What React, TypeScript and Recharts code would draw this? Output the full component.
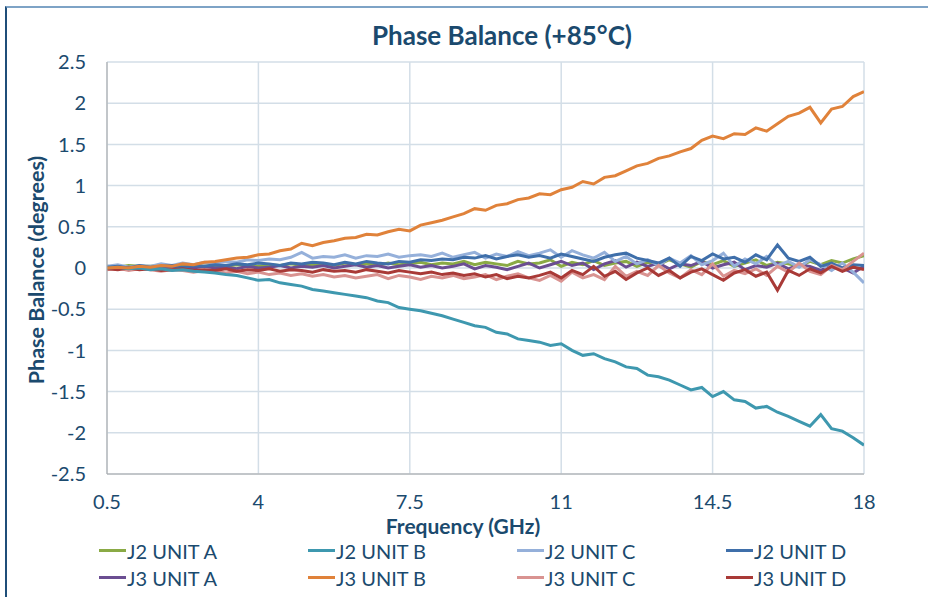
import React from "react";
import { LineChart, Line, XAxis, YAxis, CartesianGrid } from "recharts";

// Frequency points (GHz)
const freqs = [
  0.5, 0.75, 1, 1.25, 1.5, 1.75, 2, 2.25, 2.5, 2.75,
  3, 3.25, 3.5, 3.75, 4, 4.25, 4.5, 4.75, 5, 5.25,
  5.5, 5.75, 6, 6.25, 6.5, 6.75, 7, 7.25, 7.5, 7.75,
  8, 8.25, 8.5, 8.75, 9, 9.25, 9.5, 9.75, 10, 10.25,
  10.5, 10.75, 11, 11.25, 11.5, 11.75, 12, 12.25, 12.5, 12.75,
  13, 13.25, 13.5, 13.75, 14, 14.25, 14.5, 14.75, 15, 15.25,
  15.5, 15.75, 16, 16.25, 16.5, 16.75, 17, 17.25, 17.5, 17.75,
  18,
];

const j2UnitA = [
  0.02, 0.01, 0.03, 0.02, 0.02, 0.03, 0.01, 0.02, 0.03, 0.02,
  0.03, 0.02, 0.04, 0.03, 0.02, 0.04, 0.03, 0.05, 0.03, 0.04,
  0.05, 0.03, 0.06, 0.04, 0.05, 0.03, 0.06, 0.04, 0.05, 0.07,
  0.04, 0.06, 0.05, 0.08, 0.04, 0.07, 0.05, 0.03, 0.08, 0.05,
  0.06, 0.1, 0.02, 0.07, 0.04, 0.09, 0.03, 0.06, 0.08, 0.02,
  0.07, 0.04, 0.1, 0.05, 0.01, 0.08, 0.04, 0.09, 0.02, 0.06,
  0.1, 0.03, 0.07, 0.05, 0.02, 0.08, 0.04, 0.09, 0.06, 0.11,
  0.15,
];

const j2UnitB = [
  0.0, 0.01, -0.01, 0.0, -0.02, -0.01, -0.03, -0.02, -0.04, -0.05,
  -0.06, -0.08, -0.09, -0.12, -0.15, -0.14, -0.18, -0.2, -0.22, -0.26,
  -0.28, -0.3, -0.32, -0.34, -0.36, -0.4, -0.42, -0.48, -0.5, -0.52,
  -0.55, -0.58, -0.62, -0.66, -0.7, -0.72, -0.78, -0.8, -0.86, -0.88,
  -0.9, -0.94, -0.92, -1.0, -1.06, -1.04, -1.1, -1.14, -1.2, -1.22,
  -1.3, -1.32, -1.36, -1.42, -1.48, -1.45, -1.56, -1.5, -1.6, -1.62,
  -1.7, -1.68, -1.75, -1.8, -1.86, -1.92, -1.78, -1.95, -1.98, -2.06,
  -2.15,
];

const j2UnitC = [
  0.02, 0.04, 0.01, 0.03, 0.02, 0.05, 0.03, 0.06, 0.04, 0.07,
  0.06, 0.08, 0.07, 0.1, 0.09, 0.11, 0.1, 0.13, 0.19, 0.12,
  0.14, 0.13, 0.16, 0.12, 0.15, 0.14, 0.17, 0.13, 0.15, 0.16,
  0.14, 0.18, 0.13, 0.16, 0.19, 0.12, 0.17, 0.14, 0.2, 0.15,
  0.18, 0.22, 0.13, 0.21, 0.16, 0.12, 0.19, 0.08, 0.14, 0.05,
  0.1, 0.03, 0.12, 0.06, 0.15, 0.04, 0.09, 0.18, 0.02, 0.11,
  0.05, 0.14, 0.03, 0.08, 0.01, 0.1, 0.04, -0.03, 0.06, -0.05,
  -0.18,
];

const j2UnitD = [
  0.01, 0.02, 0.0, 0.03, 0.01, 0.02, 0.03, 0.01, 0.03, 0.02,
  0.04, 0.03, 0.05, 0.04, 0.06, 0.05, 0.03, 0.06, 0.05, 0.07,
  0.06, 0.04, 0.07, 0.05, 0.08, 0.06, 0.05, 0.08, 0.07, 0.1,
  0.09, 0.11, 0.1, 0.13, 0.12, 0.15, 0.11, 0.14, 0.16, 0.13,
  0.15, 0.12, 0.17, 0.14, 0.11, 0.08, 0.13, 0.16, 0.18, 0.12,
  0.09, 0.06, 0.12, 0.02, 0.14, 0.09, 0.17, 0.11, 0.13, 0.07,
  0.16, 0.1, 0.28, 0.12, 0.08, 0.13, 0.02, 0.06, 0.0, 0.04,
  0.03,
];

const j3UnitA = [
  0.0, -0.01, 0.01, 0.0, -0.01, 0.0, 0.01, -0.01, 0.0, 0.02,
  0.0, 0.01, -0.01, 0.02, 0.0, 0.01, 0.03, 0.0, 0.02, 0.01,
  0.03, 0.0, 0.02, 0.04, 0.01, 0.03, 0.0, 0.02, 0.04, 0.01,
  0.03, 0.0, 0.02, 0.05, -0.01, 0.03, 0.01, -0.02, 0.02, 0.06,
  0.0, 0.04, 0.08, 0.03, 0.06, -0.02, 0.05, 0.09, 0.01, 0.07,
  0.02, 0.06, -0.01, 0.05, 0.03, 0.08, 0.0, 0.04, 0.07, -0.02,
  0.03, 0.01, 0.06, -0.01, 0.04, 0.02, -0.03, 0.03, 0.0, -0.06,
  0.02,
];

const j3UnitB = [
  0.0, 0.01, 0.0, 0.02, 0.01, 0.03, 0.02, 0.05, 0.04, 0.07,
  0.08, 0.1, 0.12, 0.13, 0.16, 0.17, 0.21, 0.23, 0.3, 0.27,
  0.31, 0.33, 0.36, 0.37, 0.41, 0.4, 0.44, 0.47, 0.45, 0.52,
  0.55, 0.58, 0.62, 0.66, 0.72, 0.7, 0.76, 0.78, 0.83, 0.85,
  0.9, 0.89, 0.95, 0.98, 1.05, 1.02, 1.1, 1.12, 1.18, 1.24,
  1.27, 1.33, 1.36, 1.41, 1.45, 1.55, 1.6, 1.57, 1.63, 1.62,
  1.7, 1.66, 1.75, 1.84, 1.88, 1.95, 1.76, 1.93, 1.96, 2.08,
  2.14,
];

const j3UnitC = [
  -0.02, 0.0, -0.03, -0.01, -0.02, -0.04, -0.02, -0.03, -0.05, -0.03,
  -0.04, -0.06, -0.04, -0.07, -0.05, -0.08, -0.06, -0.09, -0.07, -0.1,
  -0.08, -0.11, -0.09, -0.12, -0.1, -0.08, -0.13, -0.09, -0.11, -0.14,
  -0.1, -0.12, -0.09, -0.13, -0.11, -0.08, -0.14, -0.1, -0.07, -0.12,
  -0.15, -0.09, -0.16, -0.05, -0.12, -0.08, -0.14, 0.02, -0.1, -0.04,
  -0.09, 0.03, -0.06, -0.12, -0.02, -0.08, 0.05, -0.1, -0.03, -0.07,
  -0.01, -0.09, 0.02, -0.05, 0.06, -0.04, -0.08, 0.03, -0.02, 0.08,
  0.18,
];

const j3UnitD = [
  -0.01, -0.02, 0.0, -0.02, -0.01, -0.03, -0.02, -0.01, -0.03, -0.02,
  -0.03, -0.01, -0.04, -0.02, -0.03, -0.01, -0.04, -0.02, -0.03, -0.05,
  -0.02, -0.04, -0.03, -0.05, -0.02, -0.04, -0.06, -0.03, -0.05, -0.07,
  -0.05, -0.08, -0.06, -0.09, -0.07, -0.11, -0.08, -0.13, -0.1, -0.12,
  -0.09, -0.05, -0.12, -0.03, -0.08, 0.02, -0.1, -0.04, -0.14, -0.06,
  0.0, -0.09, -0.03, -0.12, -0.05, -0.01, -0.08, -0.15, -0.06, -0.02,
  -0.1, -0.05, -0.27, -0.03, -0.09, -0.01, -0.06, 0.02, -0.04, 0.01,
  -0.02,
];

const xTicks = [0.5, 4, 7.5, 11, 14.5, 18];
const yTicks = [-2.5, -2, -1.5, -1, -0.5, 0, 0.5, 1, 1.5, 2, 2.5];

const series = [
  { key: "j2a", name: "J2 UNIT A", values: j2UnitA, color: "#8AAA45" },
  { key: "j2b", name: "J2 UNIT B", values: j2UnitB, color: "#3E98AF" },
  { key: "j2c", name: "J2 UNIT C", values: j2UnitC, color: "#95B0DA" },
  { key: "j2d", name: "J2 UNIT D", values: j2UnitD, color: "#3F6FAA" },
  { key: "j3a", name: "J3 UNIT A", values: j3UnitA, color: "#6B4E92" },
  { key: "j3b", name: "J3 UNIT B", values: j3UnitB, color: "#E0823A" },
  { key: "j3c", name: "J3 UNIT C", values: j3UnitC, color: "#D99391" },
  { key: "j3d", name: "J3 UNIT D", values: j3UnitD, color: "#A93A37" },
];

// draw order: J3 D on top
const drawOrder = ["j2a", "j3a", "j2c", "j2d", "j3c", "j3d", "j2b", "j3b"];

const data = freqs.map((f, i) => {
  const row: Record<string, number> = { f };
  series.forEach((s) => {
    row[s.key] = s.values[i];
  });
  return row;
});

const textColor = "#1B4A6E";
const font = "Lato, 'Open Sans', sans-serif";

function LegendBox() {
  return (
    <div
      style={{
        position: "absolute",
        left: 99,
        top: 539,
        display: "grid",
        gridTemplateColumns: "209px 209px 209px 209px",
        rowGap: 4,
        fontSize: 20,
        color: textColor,
      }}
    >
      {series.map((s) => (
        <div key={s.key} style={{ display: "flex", alignItems: "center", height: 23 }}>
          <span
            style={{
              display: "inline-block",
              width: 27,
              height: 3,
              background: s.color,
              marginRight: 1,
            }}
          />
          <span>{s.name}</span>
        </div>
      ))}
    </div>
  );
}

export default function App() {
  return (
    <div
      style={{
        position: "absolute",
        left: 0,
        top: 0,
        width: 928,
        height: 597,
        background: "#fff",
        overflow: "hidden",
        fontFamily: font,
      }}
    >
      <div
        style={{
          position: "absolute",
          left: 5,
          top: 6,
          width: 940,
          height: 620,
          borderTop: "2px solid #7EA3C6",
          borderLeft: "2px solid #1F4E79",
        }}
      />
      <div
        style={{
          position: "absolute",
          left: 0,
          top: 19,
          width: 1004,
          textAlign: "center",
          fontSize: 26,
          fontWeight: 700,
          color: textColor,
        }}
      >
        Phase Balance (+85°C)
      </div>
      <div
        style={{
          position: "absolute",
          left: 36,
          top: 270,
          transform: "translate(-50%, -50%) rotate(-90deg)",
          whiteSpace: "nowrap",
          fontSize: 21.5,
          fontWeight: 700,
          color: textColor,
        }}
      >
        Phase Balance (degrees)
      </div>
      <div
        style={{
          position: "absolute",
          left: 463,
          top: 525,
          transform: "translate(-50%, -50%)",
          whiteSpace: "nowrap",
          fontSize: 21,
          fontWeight: 700,
          color: textColor,
        }}
      >
        Frequency (GHz)
      </div>
      <div style={{ position: "absolute", left: 0, top: 0 }}>
        <LineChart
          width={928}
          height={597}
          data={data}
          margin={{ top: 62, right: 64, bottom: 93, left: 0 }}
        >
          <CartesianGrid stroke="#D3DEE7" strokeWidth={1.5} />
          <XAxis
            dataKey="f"
            type="number"
            domain={[0.5, 18]}
            ticks={xTicks}
            height={30}
            tickLine={false}
            tickSize={0}
            tickMargin={21}
            stroke="#A6A6A6"
            tick={{ fontSize: 20, fill: textColor, fontFamily: font }}
            allowDataOverflow
          />
          <YAxis
            type="number"
            domain={[-2.5, 2.5]}
            ticks={yTicks}
            width={107}
            tickLine={false}
            tickSize={0}
            tickMargin={21}
            stroke="#A6A6A6"
            tick={{ fontSize: 20, fill: textColor, fontFamily: font }}
          />
          {drawOrder.map((k) => {
            const s = series.find((x) => x.key === k)!;
            return (
              <Line
                key={s.key}
                type="linear"
                dataKey={s.key}
                name={s.name}
                stroke={s.color}
                strokeWidth={3}
                dot={false}
                activeDot={false}
                isAnimationActive={false}
              />
            );
          })}
        </LineChart>
      </div>
      <LegendBox />
    </div>
  );
}
